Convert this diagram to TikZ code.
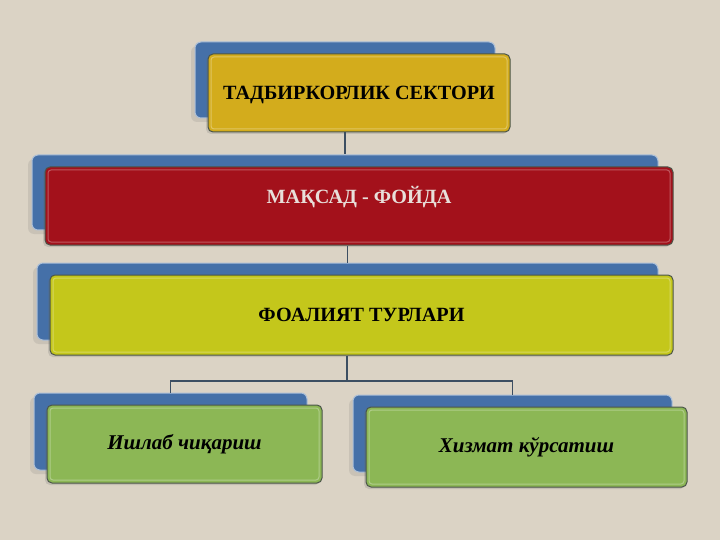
\documentclass[tikz,border=0pt]{standalone}
\usepackage{fontspec}
\setmainfont{Liberation Serif}
\usetikzlibrary{shadows}
\definecolor{bg}{HTML}{DBD3C5}
\definecolor{backblue}{HTML}{4570A8}
\definecolor{gold}{HTML}{D3AC1C}
\definecolor{redbox}{HTML}{A3111B}
\definecolor{lime}{HTML}{C4C71B}
\definecolor{grn}{HTML}{8CB755}
\definecolor{edge}{HTML}{4B5549}
\definecolor{conn}{HTML}{3C4E62}
\definecolor{redtext}{HTML}{E8DFDA}
\tikzset{
  backbox/.style={draw=white!55!backblue, line width=1pt, fill=backblue, rounded corners=6pt, inner sep=0pt,
    drop shadow={shadow xshift=-4pt, shadow yshift=-4pt, opacity=0.15, fill=black!60}},
  frontbox/.style={draw=edge, line width=1pt, rounded corners=5pt, inner sep=0pt,
    font=\fontsize{20.2}{23}\selectfont\bfseries, text height=13.5pt, text depth=0pt,
    path picture={\draw[white, opacity=0.3, line width=1pt, rounded corners=3pt]
      ([shift={(3pt,-3pt)}]path picture bounding box.north west) rectangle
      ([shift={(-3pt,3pt)}]path picture bounding box.south east);},
    drop shadow={shadow xshift=-2pt, shadow yshift=-2pt, opacity=0.2, fill=black!60}},
  leafbox/.style={frontbox, fill=grn, font=\fontsize{21}{24}\selectfont\bfseries\itshape, text height=13pt, text depth=3pt},
  connector/.style={draw=conn, line width=1.3pt}
}
\begin{document}
\begin{tikzpicture}[x=1pt,y=-1pt]
\fill[bg] (0,0) rectangle (720,540);
\useasboundingbox (0,0) rectangle (720,540);
% row 1
\node[backbox, minimum width=300pt, minimum height=76pt] (b1) at (345,80) {};
\node[frontbox, fill=gold, minimum width=302pt, minimum height=78pt] (f1) at (359,93) {ТАДБИРКОРЛИК СЕКТОРИ};
% row 2
\node[backbox, minimum width=626pt, minimum height=75pt] (b2) at (345,192.5) {};
\node[frontbox, fill=redbox, text=redtext, minimum width=628pt, minimum height=78pt, text depth=17.5pt] (f2) at (359,206) {МАҚСАД - ФОЙДА};
% row 3
\node[backbox, minimum width=621pt, minimum height=77pt] (b3) at (347.5,301.5) {};
\node[frontbox, fill=lime, minimum width=623pt, minimum height=80pt] (f3) at (361.5,315) {ФОАЛИЯТ ТУРЛАРИ};
% row 4
\node[backbox, minimum width=273pt, minimum height=77pt] (b4) at (170.5,431.5) {};
\node[leafbox, minimum width=275pt, minimum height=78pt] (f4) at (184.5,444) {Ишлаб чиқариш};
\node[backbox, minimum width=319pt, minimum height=77pt] (b5) at (512.5,433.5) {};
\node[leafbox, minimum width=321pt, minimum height=80pt] (f5) at (526.5,447) {Хизмат кўрсатиш};
% connectors
\coordinate (j) at (347,381);
\draw[connector] (b1.south |- f1.south) -- (b2.north);
\draw[connector] (b3.north |- f2.south) -- (b3.north);
\draw[connector] (j |- f3.south) -- (j);
\draw[connector] (b4.north) |- (j) -| (b5.north);
\end{tikzpicture}
\end{document}
